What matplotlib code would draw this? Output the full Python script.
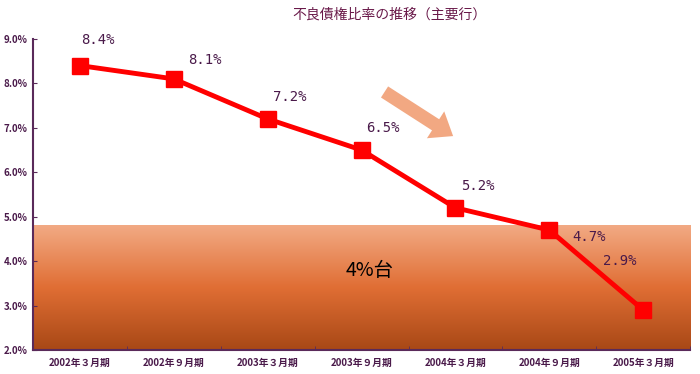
import numpy as np
import matplotlib
matplotlib.use('Agg')
import matplotlib.pyplot as plt

plt.rcParams['font.family'] = ['Noto Sans CJK JP', 'DejaVu Sans']

periods = ['2002年３月期', '2002年９月期', '2003年３月期', '2003年９月期',
           '2004年３月期', '2004年９月期', '2005年３月期']
ratios = [8.4, 8.1, 7.2, 6.5, 5.2, 4.7, 2.9]
yticks = [2.0, 3.0, 4.0, 5.0, 6.0, 7.0, 8.0, 9.0]
band_top = 4.8
# label offsets in pixels (dx, dy)
label_off = [(18, 26), (31, 19), (22, 22), (21, 22), (22, 22), (40, -7), (-24, 49)]

txt = '#4a1a4a'

fig = plt.figure(figsize=(7, 3.74), dpi=100)
ax = fig.add_axes([0.047, 0.064, 0.939, 0.832])
x = np.arange(len(periods))

# gradient band (4%台)
cmap = matplotlib.colors.LinearSegmentedColormap.from_list(
    'band', ['#a84816', '#e06e34', '#f2aa84'])
grad = np.linspace(0, 1, 256).reshape(-1, 1)
ax.imshow(grad, cmap=cmap, origin='lower', aspect='auto',
          extent=[-0.5, 6.5, 2.0, band_top], zorder=0)
ax.text(3.09, 3.8, '4%台', fontsize=14, color='black', ha='center', va='center')

ax.plot(x, ratios, color='#ff0000', lw=3.5, marker='s', ms=11, zorder=3)
for xi, v, (dx, dy) in zip(x, ratios, label_off):
    ax.annotate('%.1f%%' % v, (xi, v), xytext=(dx, dy), textcoords='offset pixels',
                ha='center', va='center', fontsize=10, color=txt,
                family=['DejaVu Sans Mono'])

# trend arrow
ax.annotate('', xy=(4.0, 6.78), xytext=(3.22, 7.84),
            arrowprops=dict(arrowstyle='simple,head_width=2.3,head_length=1.5,tail_width=0.95',
                            color='#f2a882', lw=0, mutation_scale=10))

ax.set_xlim(-0.5, 6.5)
ax.set_ylim(2.0, 9.0)
ax.set_xticks(x)
ax.set_xticklabels(periods, fontsize=7, fontweight='bold', color=txt)
ax.set_yticks(yticks)
ax.set_yticklabels(['%.1f%%' % t for t in yticks], fontsize=7, fontweight='bold', color=txt)
ax.xaxis.set_minor_locator(matplotlib.ticker.FixedLocator(np.arange(-0.5, 7, 1)))
ax.tick_params(axis='x', which='major', length=0, pad=6)
ax.tick_params(axis='x', which='minor', length=3, color='#5a2a5a', direction='in')
ax.tick_params(axis='y', length=3, color='#5a2a5a', direction='in', pad=4)
for s in ['top', 'right']:
    ax.spines[s].set_visible(False)
for s in ['left', 'bottom']:
    ax.spines[s].set_color('#5a2a5a')
    ax.spines[s].set_linewidth(1.5)

fig.text(0.557, 0.962, '不良債権比率の推移（主要行）', ha='center', va='center',
         fontsize=10, color='#6a1a4a')

fig.savefig('out.png', dpi=100)
